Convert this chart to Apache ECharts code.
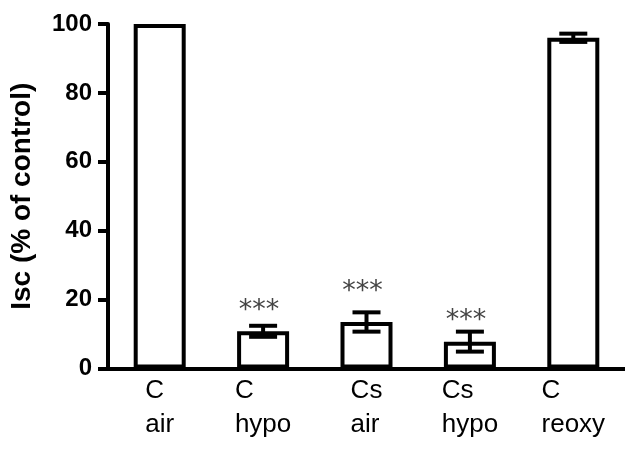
<!DOCTYPE html>
<html>
<head>
<meta charset="utf-8">
<script src="https://cdn.jsdelivr.net/npm/echarts@6/dist/echarts.min.js"></script>
<style>
html,body{margin:0;padding:0;background:#fff;}
#chart{width:625px;height:449px;}
</style>
</head>
<body>
<div id="chart"></div>
<script>
// ---- data ----
var categories = ['C\nair', 'C\nhypo', 'Cs\nair', 'Cs\nhypo', 'C\nreoxy'];
var means = [100, 10.8, 13.5, 7.8, 96];
var errors = [0, 1.6, 2.8, 2.9, 1.2];
var significance = ['', '***', '***', '***', ''];
var starLevels = [null, 19, 24.6, 16, null];
var yTicks = [0, 20, 40, 60, 80, 100];
var yTitle = 'Isc (% of control)';

var FONT = '"Liberation Sans", Arial, Helvetica, sans-serif';

var errData = means.map(function (m, i) {
  return [i, m, errors[i], starLevels[i], significance[i]];
});

var chart = echarts.init(document.getElementById('chart'));
chart.setOption({
  animation: false,
  backgroundColor: '#fff',
  grid: { left: 108, right: 0, top: 24, bottom: 80.5, containLabel: false, outerBoundsMode: 'none' },
  xAxis: {
    type: 'category',
    data: categories,
    axisLine: { show: true, lineStyle: { color: '#000', width: 4 } },
    axisTick: { show: false },
    axisLabel: {
      interval: 0,
      hideOverlap: false,
      margin: 5,
      color: '#000',
      fontFamily: FONT,
      fontSize: 26,
      lineHeight: 34,
      formatter: function (v) {
        return v.split('\n').map(function (s) { return '{a|' + s + '}'; }).join('\n');
      },
      rich: { a: { width: '100%', align: 'left', fontSize: 26, lineHeight: 34, fontFamily: FONT, color: '#000' } }
    }
  },
  yAxis: {
    type: 'value',
    min: yTicks[0],
    max: yTicks[yTicks.length - 1],
    interval: yTicks[1] - yTicks[0],
    name: yTitle,
    nameLocation: 'middle',
    nameGap: 72,
    nameTextStyle: { fontFamily: FONT, fontSize: 28, fontWeight: 'bold', color: '#000' },
    axisLine: { show: true, lineStyle: { color: '#000', width: 4 } },
    axisTick: { show: true, length: 10, lineStyle: { color: '#000', width: 4 } },
    axisLabel: { margin: 16, color: '#000', fontFamily: FONT, fontSize: 24, fontWeight: 'bold' },
    splitLine: { show: false }
  },
  series: [
    {
      type: 'bar',
      data: means,
      barWidth: 52,
      itemStyle: { color: '#fff', borderColor: '#000', borderWidth: 4 },
      z: 2
    },
    {
      type: 'custom',
      data: errData,
      z: 5,
      renderItem: function (params, api) {
        var i = api.value(0), m = api.value(1), e = api.value(2);
        var children = [];
        if (e > 0) {
          var top = api.coord([i, m + e]);
          var bot = api.coord([i, m - e]);
          var hw = 14;
          var st = { stroke: '#000', lineWidth: 4 };
          children.push({ type: 'line', shape: { x1: top[0], y1: top[1], x2: bot[0], y2: bot[1] }, style: st });
          children.push({ type: 'line', shape: { x1: top[0] - hw, y1: top[1], x2: top[0] + hw, y2: top[1] }, style: st });
          children.push({ type: 'line', shape: { x1: bot[0] - hw, y1: bot[1], x2: bot[0] + hw, y2: bot[1] }, style: st });
        }
        var lvl = errData[params.dataIndex][3];
        var sig = errData[params.dataIndex][4];
        if (sig && lvl != null) {
          var p = api.coord([i, lvl]);
          children.push({
            type: 'text',
            style: {
              text: sig, x: p[0] - 4, y: p[1] + 8,
              align: 'center', verticalAlign: 'middle',
              fontFamily: '"DejaVu Sans", sans-serif', fontSize: 27,
              fill: '#444'
            }
          });
        }
        return { type: 'group', children: children };
      }
    }
  ]
});
</script>
</body>
</html>
